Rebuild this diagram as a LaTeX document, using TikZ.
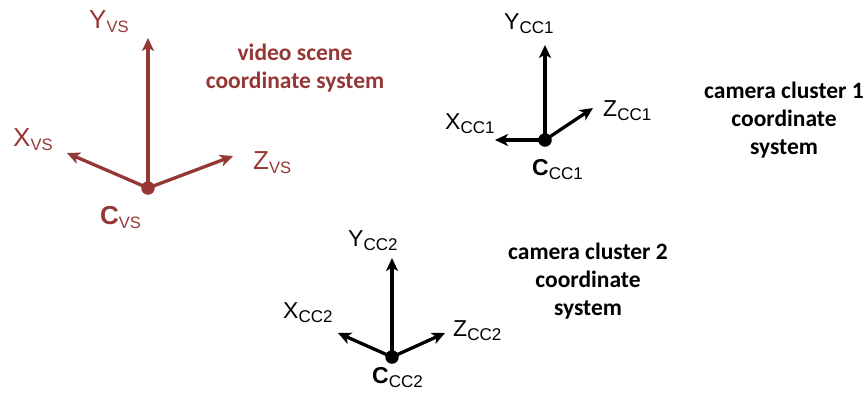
\documentclass[tikz,border=0pt]{standalone}
\usepackage{fontspec}
\setmainfont{Liberation Sans}
\newfontfamily\calib{Carlito}
\usetikzlibrary{arrows.meta}
\definecolor{vsred}{RGB}{149,55,53}
\newcommand{\axlab}[4]{{\fontsize{#3}{#3}\selectfont #1}\raisebox{-4.5pt}{\fontsize{#4}{#4}\selectfont #2}}
\newcommand{\orlab}[4]{{\fontsize{#3}{#3}\selectfont\bfseries #1}\raisebox{-4.5pt}{\fontsize{#4}{#4}\selectfont #2}}
\tikzset{
  axis/.style={line width=3.3pt, -{Stealth[length=13pt,width=12pt,inset=3.5pt]}},
  origin/.style={circle, fill, inner sep=0pt, minimum size=13.5pt},
  lab/.style={inner sep=0pt, anchor=base west},
  desc/.style={inner sep=0pt, align=center, font=\calib\bfseries\fontsize{23.5}{28}\selectfont},
}
\begin{document}
\begin{tikzpicture}[x=1pt,y=-1pt]
\useasboundingbox (0,0) rectangle (866,392);
% video scene
\begin{scope}[color=vsred]
\coordinate (vsy) at (148,38);
\coordinate (vsx) at (67,153);
\coordinate (vsz) at (233,156);
\node[origin] (cvs) at (148,188) {};
\draw[axis] (cvs.center) -- (vsy);
\draw[axis] (cvs.center) -- (vsx);
\draw[axis] (cvs.center) -- (vsz);
\node[lab] (lyvs) at (89,28) {\axlab{Y}{VS}{26}{16.5}};
\node[lab] (lxvs) at (13,146) {\axlab{X}{VS}{26}{16.5}};
\node[lab] (lzvs) at (253,169) {\axlab{Z}{VS}{26}{16.5}};
\node[lab] (lcvs) at (100,224) {\orlab{C}{VS}{26}{16.5}};
\node[desc] (tvs) at (295,68) {video scene\\coordinate system};
\end{scope}
% camera cluster 1
\coordinate (c1y) at (545,45);
\coordinate (c1x) at (495,140);
\coordinate (c1z) at (593,108);
\node[origin] (cc1) at (545,140) {};
\draw[axis] (cc1.center) -- (c1y);
\draw[axis] (cc1.center) -- (c1x);
\draw[axis] (cc1.center) -- (c1z);
\node[lab] (lycc1) at (504,29) {\axlab{Y}{CC1}{23}{17}};
\node[lab] (lxcc1) at (445,129) {\axlab{X}{CC1}{23}{17}};
\node[lab] (lzcc1) at (603,116) {\axlab{Z}{CC1}{23}{17}};
\node[lab] (lccc1) at (532,175) {\orlab{C}{CC1}{23}{17}};
\node[desc] (tcc1) at (784,120) {camera cluster 1\\coordinate\\system};
% camera cluster 2
\coordinate (c2y) at (392,258);
\coordinate (c2x) at (338,333);
\coordinate (c2z) at (445,333);
\node[origin] (cc2) at (392,357) {};
\draw[axis] (cc2.center) -- (c2y);
\draw[axis] (cc2.center) -- (c2x);
\draw[axis] (cc2.center) -- (c2z);
\node[lab] (lycc2) at (348,246) {\axlab{Y}{CC2}{23}{17}};
\node[lab] (lxcc2) at (283,318) {\axlab{X}{CC2}{23}{17}};
\node[lab] (lzcc2) at (453,336) {\axlab{Z}{CC2}{23}{17}};
\node[lab] (lccc2) at (372,383) {\orlab{C}{CC2}{23}{17}};
\node[desc] (tcc2) at (588,281) {camera cluster 2\\coordinate\\system};
\end{tikzpicture}
\end{document}
